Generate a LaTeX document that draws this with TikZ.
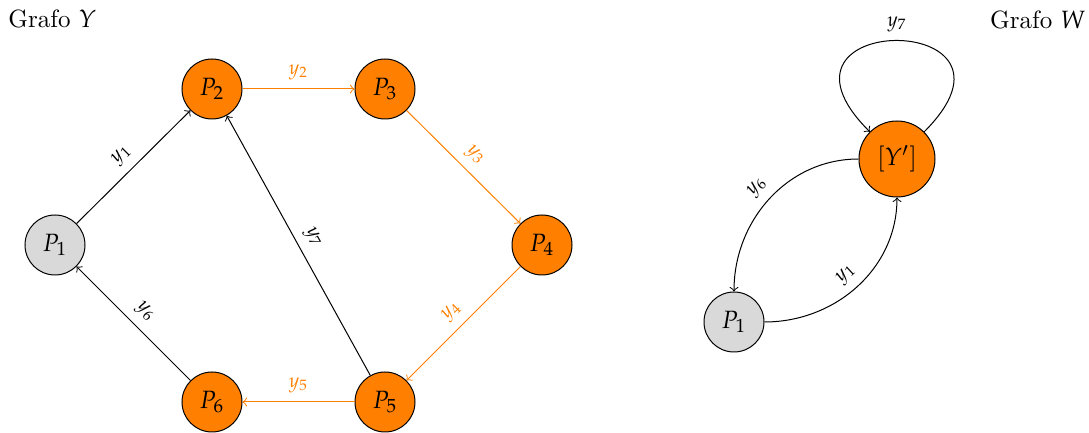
\documentclass[tikz,border=0pt]{standalone}
\usepackage{mathpazo}
\definecolor{orng}{RGB}{255,128,0}
\begin{document}
\begin{tikzpicture}[x=0.4pt,y=0.4pt,
  pnode/.style={circle,draw=black,fill=orng,minimum size=24pt,inner sep=0pt},
  gnode/.style={pnode,fill=black!15},
  oedge/.style={->,color=orng},
  bedge/.style={->,color=black},
  lbl/.style={above,sloped,font=\footnotesize},
  title/.style={inner sep=0pt}]
\useasboundingbox (0,0) rectangle (1089,433);
\node[title,anchor=base west] (tY) at (8,405) {Grafo $Y$};
\node[title,anchor=base east] (tW) at (1086,404) {Grafo $W$};
% Graph Y
\node[gnode] (P1) at (55,188) {$P_1$};
\node[pnode] (P2) at (212,344) {$P_2$};
\node[pnode] (P3) at (385,344) {$P_3$};
\node[pnode] (P4) at (542,188) {$P_4$};
\node[pnode] (P5) at (385,31) {$P_5$};
\node[pnode] (P6) at (212,31) {$P_6$};
\draw[bedge] (P1) -- node[lbl] {$y_1$} (P2);
\draw[oedge] (P2) -- node[lbl] {$y_2$} (P3);
\draw[oedge] (P3) -- node[lbl] {$y_3$} (P4);
\draw[oedge] (P4) -- node[lbl] {$y_4$} (P5);
\draw[oedge] (P5) -- node[lbl] {$y_5$} (P6);
\draw[bedge] (P6) -- node[lbl] {$y_6$} (P1);
\draw[bedge] (P5) -- node[lbl] {$y_7$} (P2);
% Graph W
\node[pnode,minimum size=30.4pt] (Y) at (897,274) {$[Y']$};
\node[gnode] (Q1) at (734,111) {$P_1$};
\draw[bedge] (Y.45) .. controls +(45:172) and +(135:172) .. node[above,font=\footnotesize] {$y_7$} (Y.135);
\draw[bedge] (Y) to[out=180,in=90] node[lbl] {$y_6$} (Q1);
\draw[bedge] (Q1) to[out=0,in=-90] node[lbl] {$y_1$} (Y);
\end{tikzpicture}
\end{document}
